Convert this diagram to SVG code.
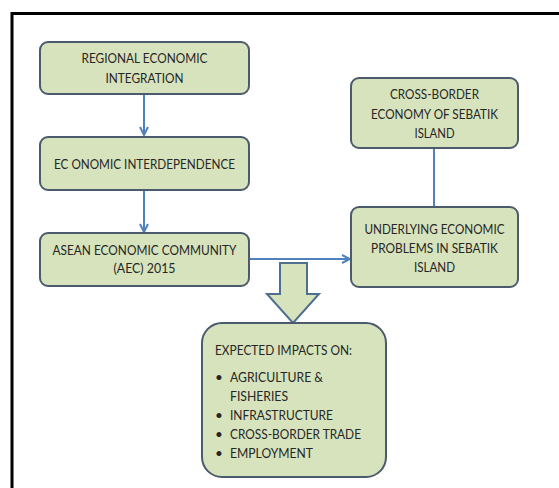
<svg xmlns="http://www.w3.org/2000/svg" width="559" height="488" viewBox="0 0 559 488">
<defs>
<style>
.box{fill:#d7e3bc;stroke:#4b5b6b;stroke-width:2}
.t{font-family:Lato,"Liberation Sans",Arial,sans-serif;font-size:13.5px;fill:#262626}
.c{text-anchor:middle}
.con{stroke:#4f81bd;stroke-width:2;fill:none}
</style>
<marker id="ah" viewBox="0 0 10 10" refX="9" refY="5" markerWidth="10" markerHeight="10" markerUnits="userSpaceOnUse" orient="auto">
<path d="M1,1 L9,5 L1,9" fill="none" stroke="#4f81bd" stroke-width="2"/>
</marker>
</defs>
<rect width="559" height="488" fill="#ffffff"/>
<path d="M12,488 V13.5 H559" fill="none" stroke="#000" stroke-width="3"/>
<g id="connectors">
<line class="con" x1="144" y1="93" x2="144" y2="135" marker-end="url(#ah)"/>
<line class="con" x1="144" y1="190" x2="144" y2="232" marker-end="url(#ah)"/>
<line class="con" x1="249" y1="259" x2="350" y2="259" marker-end="url(#ah)"/>
<line class="con" x1="434" y1="148" x2="434" y2="207"/>
<path d="M280,263 H307 V294 H319 L293,323 L267,294 H280 Z" fill="#d7e3bc" stroke="#4f6f8f" stroke-width="2"/>
</g>
<g id="n1">
<rect class="box" x="40" y="42" width="209" height="52" rx="8"/>
<text class="t c" x="144.5" y="63" textLength="126" lengthAdjust="spacingAndGlyphs">REGIONAL ECONOMIC</text>
<text class="t c" x="144.5" y="82.5" textLength="78" lengthAdjust="spacingAndGlyphs">INTEGRATION</text>
</g>
<g id="n2">
<rect class="box" x="40" y="137" width="209" height="53" rx="8"/>
<text class="t c" x="144.5" y="169" textLength="181" lengthAdjust="spacingAndGlyphs">EC ONOMIC INTERDEPENDENCE</text>
</g>
<g id="n3">
<rect class="box" x="40" y="233" width="209" height="53" rx="8"/>
<text class="t c" x="144.5" y="255" textLength="184" lengthAdjust="spacingAndGlyphs">ASEAN ECONOMIC COMMUNITY</text>
<text class="t c" x="144.5" y="273" textLength="62" lengthAdjust="spacingAndGlyphs">(AEC) 2015</text>
</g>
<g id="n4">
<rect class="box" x="351" y="78" width="167" height="70" rx="8"/>
<text class="t c" x="434.5" y="98.5" textLength="89" lengthAdjust="spacingAndGlyphs">CROSS-BORDER</text>
<text class="t c" x="434.5" y="118.5" textLength="127" lengthAdjust="spacingAndGlyphs">ECONOMY OF SEBATIK</text>
<text class="t c" x="434.5" y="137.5" textLength="40" lengthAdjust="spacingAndGlyphs">ISLAND</text>
</g>
<g id="n5">
<rect class="box" x="351" y="207" width="167" height="80" rx="8"/>
<text class="t c" x="434.5" y="233.5" textLength="140" lengthAdjust="spacingAndGlyphs">UNDERLYING ECONOMIC</text>
<text class="t c" x="434.5" y="252.5" textLength="127" lengthAdjust="spacingAndGlyphs">PROBLEMS IN SEBATIK</text>
<text class="t c" x="434.5" y="272" textLength="41" lengthAdjust="spacingAndGlyphs">ISLAND</text>
</g>
<g id="n6">
<rect class="box" x="202" y="323" width="184" height="154" rx="20"/>
<text class="t" x="215" y="355" textLength="137" lengthAdjust="spacingAndGlyphs">EXPECTED IMPACTS ON:</text>
<text class="t" x="215" y="382">•</text>
<text class="t" x="230" y="382" textLength="93" lengthAdjust="spacingAndGlyphs">AGRICULTURE &amp;</text>
<text class="t" x="230" y="401" textLength="58" lengthAdjust="spacingAndGlyphs">FISHERIES</text>
<text class="t" x="215" y="420">•</text>
<text class="t" x="230" y="420" textLength="103" lengthAdjust="spacingAndGlyphs">INFRASTRUCTURE</text>
<text class="t" x="215" y="439">•</text>
<text class="t" x="230" y="439" textLength="131" lengthAdjust="spacingAndGlyphs">CROSS-BORDER TRADE</text>
<text class="t" x="215" y="458">•</text>
<text class="t" x="230" y="458" textLength="83" lengthAdjust="spacingAndGlyphs">EMPLOYMENT</text>
</g>
</svg>
